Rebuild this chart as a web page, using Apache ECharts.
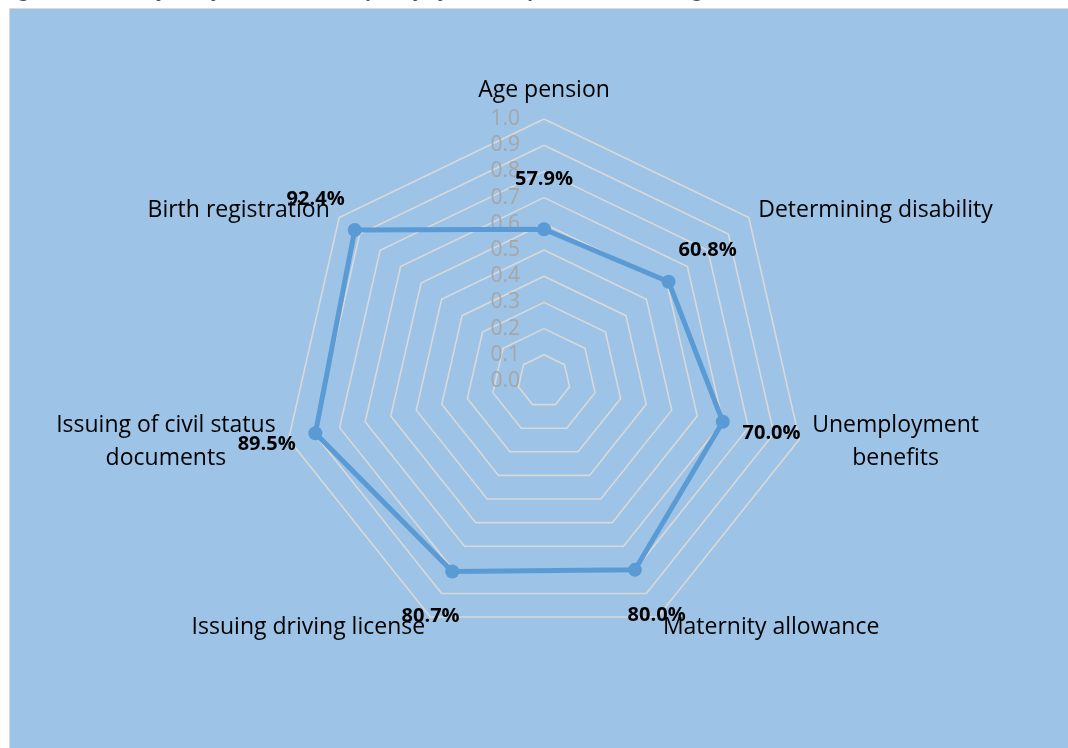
<!DOCTYPE html>
<html>
<head>
<meta charset="utf-8">
<script src="https://cdn.jsdelivr.net/npm/echarts@6/dist/echarts.min.js"></script>
<style>
  html, body { margin: 0; padding: 0; background: #ffffff; }
  #main { width: 1068px; height: 748px; }
</style>
</head>
<body>
<div id="main"></div>
<script>
// services, clockwise from the top
var services = ['Age pension', 'Determining disability', 'Unemployment\nbenefits', 'Maternity allowance',
    'Issuing driving license', 'Issuing of civil status\ndocuments', 'Birth registration'];
var satisfaction = [0.579, 0.608, 0.700, 0.800, 0.807, 0.895, 0.924];
var tickLabels = ['0.0', '0.1', '0.2', '0.3', '0.4', '0.5', '0.6', '0.7', '0.8', '0.9', '1.0'];

var CX = 544, CY = 381, R = 262;
var FONT = '"Open Sans"';
var NAME_SIZE = 23;

// echarts lays indicators counter-clockwise, so keep the first and reverse the rest
var order = [0];
for (var i = services.length - 1; i > 0; i--) order.push(i);

// multi-line names get their lines centred inside a box as wide as the longest line
var measure = document.createElement('canvas').getContext('2d');
measure.font = NAME_SIZE + 'px ' + FONT;
var nameRich = {};
function nameText(name) {
    var lines = name.split('\n');
    if (lines.length === 1) return name;
    var w = 0;
    lines.forEach(function (l) { w = Math.max(w, measure.measureText(l).width); });
    var key = 'n' + Object.keys(nameRich).length;
    nameRich[key] = { width: Math.ceil(w) + 2, align: 'center', fontFamily: FONT, fontSize: NAME_SIZE, lineHeight: 33, color: '#000000' };
    return lines.map(function (l) { return '{' + key + '|' + l + '}'; }).join('\n');
}

var indicators = [], values = [], nameMap = {};
for (var k = 0; k < order.length; k++) {
    var nm = services[order[k]];
    nameMap[nm] = nameText(nm);
    var ind = { name: nm, min: 0, max: 1 };
    if (k === 0) ind.axisLabel = { show: true };
    indicators.push(ind);
    values.push(satisfaction[order[k]]);
}

var chart = echarts.init(document.getElementById('main'));
var option = {
    backgroundColor: '#ffffff',
    animation: false,
    graphic: [
        {
            type: 'rect', z: -10, silent: true,
            shape: { x: 9.5, y: 8.5, width: 1080, height: 760 },
            style: { fill: '#9DC3E6', stroke: '#D9D9D9', lineWidth: 1 }
        },
        {
            // caption of the figure, mostly cut off by the top edge
            type: 'text', left: 4, top: -19, silent: true,
            style: {
                text: 'Figure 11: Level of satisfaction with the quality of services per service (in %), grades 5 and 4',
                fill: '#44546A', font: 'italic bold 19px ' + FONT
            }
        }
    ],
    radar: {
        center: [CX, CY],
        radius: R,
        shape: 'polygon',
        splitNumber: 10,
        startAngle: 90,
        indicator: indicators,
        axisName: {
            color: '#000000', fontFamily: FONT, fontSize: NAME_SIZE, lineHeight: 33,
            formatter: function (name) { return nameMap[name] || name; },
            rich: nameRich
        },
        nameGap: 12,
        axisLine: { show: false },
        axisTick: { show: false },
        axisLabel: {
            show: false, color: '#A6A6A6', fontFamily: FONT, fontSize: 21, margin: 24,
            formatter: function (v) { return tickLabels[Math.round(v * 10)]; }
        },
        splitLine: { lineStyle: { color: '#D9D9D9', width: 1.6 } },
        splitArea: { show: false }
    },
    series: [{
        type: 'radar',
        symbol: 'circle',
        symbolSize: 14,
        itemStyle: { color: '#5B9BD5' },
        lineStyle: { color: '#5B9BD5', width: 5 },
        label: {
            show: true, color: '#000000', fontFamily: FONT, fontWeight: 'bold', fontSize: 20,
            formatter: function (p) { return (p.value * 100).toFixed(1) + '%'; }
        },
        // push each value label outwards from the centre, like the original
        labelLayout: function (p) {
            var sx = p.rect.x + p.rect.width / 2, sy = p.rect.y + p.rect.height / 2;
            var dx = sx - CX, dy = sy - CY, len = Math.sqrt(dx * dx + dy * dy) || 1;
            return { x: sx + dx / len * 50, y: sy + dy / len * 50, align: 'center', verticalAlign: 'middle' };
        },
        data: [{ value: values, name: 'Satisfaction' }]
    }]
};
chart.setOption(option);
</script>
</body>
</html>
